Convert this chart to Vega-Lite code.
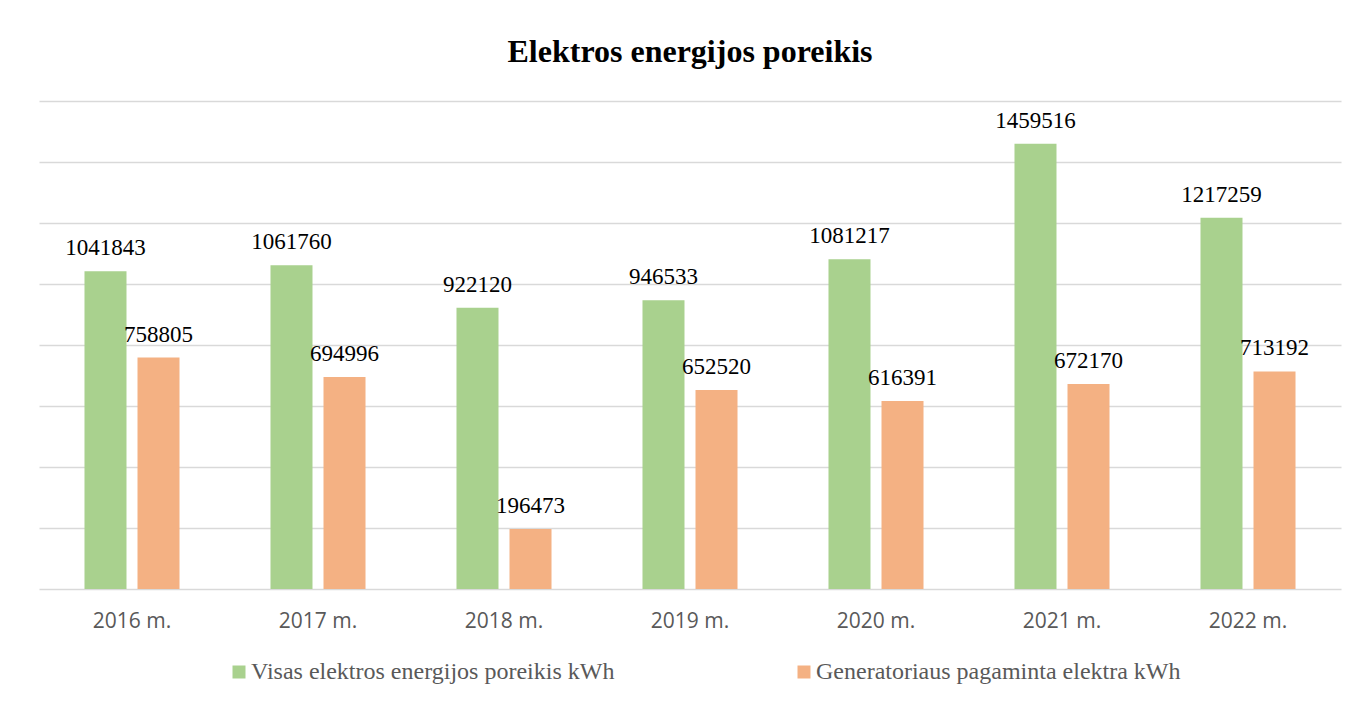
{
  "$schema": "https://vega.github.io/schema/vega-lite/v6.json",
  "autosize": {"type": "none"},
  "width": 1302,
  "height": 488,
  "padding": {"left": 39, "top": 101, "right": 19, "bottom": 113},
  "background": "white",
  "title": {
    "text": "Elektros energijos poreikis",
    "font": "Liberation Serif",
    "fontSize": 32,
    "fontWeight": "bold",
    "color": "black",
    "anchor": "middle",
    "offset": 32
  },
  "data": {
    "values": [
      {"year": "2016 m.", "series": "Visas elektros energijos poreikis kWh", "value": 1041843},
      {"year": "2016 m.", "series": "Generatoriaus pagaminta elektra kWh", "value": 758805},
      {"year": "2017 m.", "series": "Visas elektros energijos poreikis kWh", "value": 1061760},
      {"year": "2017 m.", "series": "Generatoriaus pagaminta elektra kWh", "value": 694996},
      {"year": "2018 m.", "series": "Visas elektros energijos poreikis kWh", "value": 922120},
      {"year": "2018 m.", "series": "Generatoriaus pagaminta elektra kWh", "value": 196473},
      {"year": "2019 m.", "series": "Visas elektros energijos poreikis kWh", "value": 946533},
      {"year": "2019 m.", "series": "Generatoriaus pagaminta elektra kWh", "value": 652520},
      {"year": "2020 m.", "series": "Visas elektros energijos poreikis kWh", "value": 1081217},
      {"year": "2020 m.", "series": "Generatoriaus pagaminta elektra kWh", "value": 616391},
      {"year": "2021 m.", "series": "Visas elektros energijos poreikis kWh", "value": 1459516},
      {"year": "2021 m.", "series": "Generatoriaus pagaminta elektra kWh", "value": 672170},
      {"year": "2022 m.", "series": "Visas elektros energijos poreikis kWh", "value": 1217259},
      {"year": "2022 m.", "series": "Generatoriaus pagaminta elektra kWh", "value": 713192}
    ]
  },
  "encoding": {
    "x": {
      "field": "year",
      "type": "nominal",
      "sort": null,
      "scale": {"paddingInner": 0, "paddingOuter": 0},
      "axis": {
        "title": null,
        "labelAngle": 0,
        "labelFont": "Open Sans",
        "labelFontSize": 21,
        "labelColor": "#595959",
        "labelPadding": 21,
        "ticks": false,
        "domainColor": "#d9d9d9",
        "domainWidth": 1.5,
        "grid": false
      }
    },
    "xOffset": {
      "field": "series",
      "type": "nominal",
      "sort": ["Visas elektros energijos poreikis kWh", "Generatoriaus pagaminta elektra kWh"],
      "scale": {"paddingInner": 0.2075, "paddingOuter": 0.858}
    },
    "y": {
      "field": "value",
      "type": "quantitative",
      "scale": {"domain": [0, 1600000], "nice": false},
      "axis": {
        "title": null,
        "labels": false,
        "ticks": false,
        "domain": false,
        "grid": true,
        "values": [200000, 400000, 600000, 800000, 1000000, 1200000, 1400000, 1600000],
        "gridColor": "#d9d9d9",
        "gridWidth": 1.5
      }
    }
  },
  "layer": [
    {
      "mark": {"type": "bar"},
      "encoding": {
        "color": {
          "field": "series",
          "type": "nominal",
          "sort": ["Visas elektros energijos poreikis kWh", "Generatoriaus pagaminta elektra kWh"],
          "scale": {
            "domain": ["Visas elektros energijos poreikis kWh", "Generatoriaus pagaminta elektra kWh"],
            "range": ["#a9d18e", "#f4b183"]
          },
          "legend": {
            "title": null,
            "orient": "none",
            "legendX": 188,
            "legendY": 559,
            "direction": "horizontal",
            "symbolType": "square",
            "symbolSize": 169,
            "symbolStrokeWidth": 0,
            "labelFont": "Liberation Serif",
            "labelFontSize": 24,
            "labelColor": "#595959",
            "labelLimit": 600,
            "labelOffset": 0,
            "columnPadding": 177
          }
        }
      }
    },
    {
      "mark": {
        "type": "text",
        "font": "Liberation Serif",
        "fontSize": 23,
        "color": "black",
        "baseline": "alphabetic",
        "dy": -16
      },
      "encoding": {
        "text": {"field": "value", "type": "quantitative", "format": "d"}
      }
    }
  ],
  "config": {
    "view": {"stroke": null}
  }
}
